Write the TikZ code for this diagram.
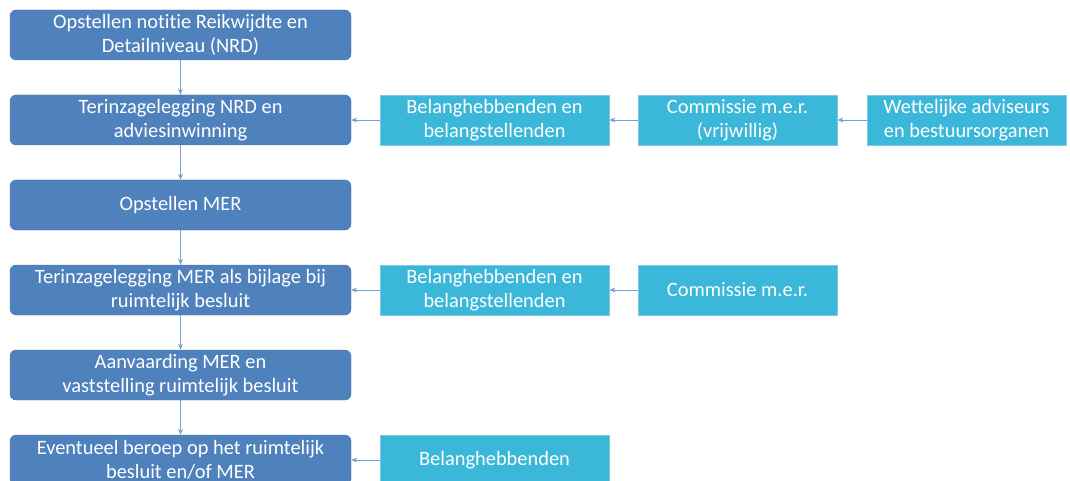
\documentclass[tikz,border=0pt]{standalone}
\usepackage{fontspec}
\setmainfont[Ligatures=NoCommon]{Carlito}
\usetikzlibrary{arrows.meta}
\definecolor{mainblue}{HTML}{4F81BD}
\definecolor{mainedge}{HTML}{4A78B0}
\definecolor{cyanbox}{HTML}{3AB7D9}
\definecolor{cyanedge}{HTML}{7CCBE3}
\definecolor{arrowcol}{HTML}{6FA3D8}
\tikzset{
  x=1pt, y=-1pt,
  stepbox/.style={draw=mainedge, fill=mainblue, rounded corners=6pt, minimum width=341pt, minimum height=50pt, text=white, align=center, font=\fontsize{20.4}{24}\selectfont, inner sep=0pt},
  sidebox/.style={draw=cyanedge, line width=0.8pt, fill=cyanbox, minimum height=50pt, text=white, align=center, font=\fontsize{20.4}{24}\selectfont, inner sep=0pt},
  conn/.style={draw=arrowcol, line width=0.8pt, -{Stealth[length=6pt,width=5pt]}}
}
\begin{document}
\begin{tikzpicture}
\useasboundingbox (0,0) rectangle (1070,481);
\node[stepbox] (s1) at (180.5,35) {Opstellen notitie Reikwijdte en\\Detailniveau (NRD)};
\node[stepbox] (s2) at (180.5,120) {Terinzagelegging NRD en\\adviesinwinning};
\node[stepbox] (s3) at (180.5,205) {Opstellen MER};
\node[stepbox] (s4) at (180.5,290) {Terinzagelegging MER als bijlage bij\\ruimtelijk besluit};
\node[stepbox] (s5) at (180.5,375) {Aanvaarding MER en\\vaststelling ruimtelijk besluit};
\node[stepbox] (s6) at (180.5,460) {Eventueel beroep op het ruimtelijk\\besluit en/of MER};

\node[sidebox, minimum width=229pt] (b2) at (494.5,120) {Belanghebbenden en\\belangstellenden};
\node[sidebox, minimum width=199pt] (c2) at (737.5,120) {Commissie m.e.r.\\(vrijwillig)};
\node[sidebox, minimum width=199pt] (w2) at (966.5,120) {Wettelijke adviseurs\\en bestuursorganen};

\node[sidebox, minimum width=229pt] (b4) at (494.5,290) {Belanghebbenden en\\belangstellenden};
\node[sidebox, minimum width=199pt] (c4) at (737.5,290) {Commissie m.e.r.};

\node[sidebox, minimum width=229pt] (b6) at (494.5,460) {Belanghebbenden};

\draw[conn] (s1) -- (s2);
\draw[conn] (s2) -- (s3);
\draw[conn] (s3) -- (s4);
\draw[conn] (s4) -- (s5);
\draw[conn] (s5) -- (s6);

\draw[conn] (b2) -- (s2);
\draw[conn] (c2) -- (b2);
\draw[conn] (w2) -- (c2);
\draw[conn] (b4) -- (s4);
\draw[conn] (c4) -- (b4);
\draw[conn] (b6) -- (s6);
\end{tikzpicture}
\end{document}
